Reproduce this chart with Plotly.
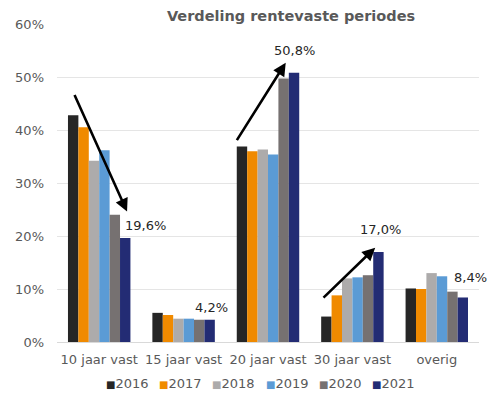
import plotly.graph_objects as go

categories = ["10 jaar vast", "15 jaar vast", "20 jaar vast", "30 jaar vast", "overig"]
years = ["2016", "2017", "2018", "2019", "2020", "2021"]
v2016 = [42.8, 5.5, 36.9, 4.8, 10.1]
v2017 = [40.5, 5.1, 36.0, 8.8, 10.0]
v2018 = [34.2, 4.4, 36.3, 12.0, 13.0]
v2019 = [36.2, 4.4, 35.4, 12.2, 12.4]
v2020 = [24.0, 4.2, 49.7, 12.6, 9.5]
v2021 = [19.6, 4.2, 50.8, 17.0, 8.4]
series = [v2016, v2017, v2018, v2019, v2020, v2021]
colors = ["#262626", "#F08A00", "#ADABAB", "#5B9BD5", "#767171", "#232C74"]

label_text = ["19,6%", "4,2%", "50,8%", "17,0%", "8,4%"]
# arrows: (x0, y0, x1, y1) in category index / percent units
arrows = [(-0.30, 46.9, 0.33, 24.6), (1.62, 37.8, 2.21, 52.7), (2.64, 8.1, 3.27, 17.8)]
label_pos = [(0.55, 21.9), (1.33, 6.6), (2.31, 55.0), (3.33, 21.3), (4.40, 12.1)]

W, H = 488, 397
ML, MR, MT, MB = 57, 9, 24, 55
PW, PH = W - ML - MR, H - MT - MB

fig = go.Figure()
for name, vals, col in zip(years, series, colors):
    fig.add_trace(go.Bar(x=categories, y=vals, name=name, marker_color=col,
                         marker_line_width=0, showlegend=False))

for (x0, y0, x1, y1) in arrows:
    fig.add_annotation(x=x1, y=y1, ax=x0, ay=y0, xref="x", yref="y", axref="x", ayref="y",
                       showarrow=True, arrowhead=2, arrowsize=1, arrowwidth=2.6,
                       arrowcolor="#000000", text="")

for t, (x, y) in zip(label_text, label_pos):
    fig.add_annotation(x=x, y=y, xref="x", yref="y", text=t, showarrow=False,
                       font=dict(family="DejaVu Sans", size=13, color="#262626"))

# legend row (swatch glyph + year) below the axis
legend_px0 = 104
legend_step = 53.2
legend_py = 383
for i, (name, col) in enumerate(zip(years, colors)):
    fig.add_annotation(
        x=(legend_px0 + i * legend_step - ML) / PW, y=(H - MB - legend_py) / PH,
        xref="paper", yref="paper",
        xanchor="left", yanchor="middle", showarrow=False,
        text=f"<span style='color:{col};font-size:10px'>■</span>{name}",
        font=dict(family="DejaVu Sans", size=13, color="#595959"))

fig.update_layout(
    width=W, height=H,
    margin=dict(l=ML, r=MR, t=MT, b=MB, autoexpand=False),
    paper_bgcolor="white", plot_bgcolor="white",
    barmode="group", bargap=0.26, bargroupgap=0,
    title=dict(text="<b>Verdeling rentevaste periodes</b>", x=291 / W, xref="container",
               xanchor="center", y=1 - 11 / H, yanchor="top",
               font=dict(family="DejaVu Sans", size=14.5, color="#595959")),
    font=dict(family="DejaVu Sans", size=13, color="#595959"),
    showlegend=False,
)
fig.update_xaxes(showgrid=False, showline=True, linecolor="#D9D9D9", linewidth=1,
                 tickfont=dict(size=13, color="#595959"), ticks="", range=[-0.5, 4.5],
                 automargin=False, ticklabelstandoff=5)
fig.update_yaxes(range=[0, 60], dtick=10, ticksuffix="%", showgrid=True,
                 gridcolor="#E5E5E5", gridwidth=1, zeroline=False,
                 tickfont=dict(size=13, color="#595959"), automargin=False,
                 ticklabelstandoff=12)

fig.write_html("out.html", config={"displayModeBar": False},
               post_script="document.body.style.margin='0';document.body.style.padding='0';")
